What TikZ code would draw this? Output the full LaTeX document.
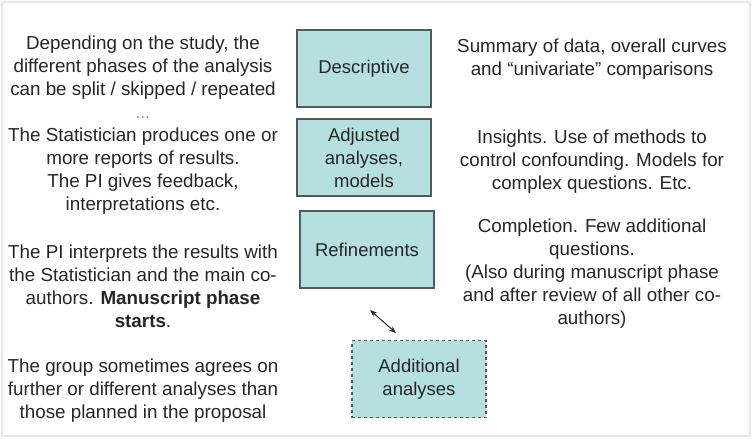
\documentclass[tikz,border=0pt]{standalone}
\usepackage{fontspec}
\setmainfont{Liberation Sans}
\usepackage{tikz}
\usetikzlibrary{arrows.meta}

\definecolor{phasefill}{HTML}{B6DFE0}
\definecolor{phaseline}{HTML}{4C5C5C}
\definecolor{txtgray}{HTML}{262626}
\definecolor{framegray}{HTML}{E8E8E8}

\begin{document}
\begin{tikzpicture}[x=1pt,y=-1pt,
  phase/.style={rectangle,draw=phaseline,fill=phasefill,line width=1.5pt,
    minimum width=134pt,minimum height=77pt,align=center,text=txtgray,
    font=\fontsize{18.5}{23}\selectfont},
  note/.style={align=center,text=txtgray,font=\fontsize{18.8}{23}\selectfont}]
\useasboundingbox (0,0) rectangle (753,439);
\draw [framegray,line width=1.2pt] (2,2) rectangle (750,436);
% phases
\node [phase] (desc) at (364,68.5) {Descriptive};
\node [phase] (adj) at (364,157.5) {Adjusted\\analyses,\\models};
\node [phase] (ref) at (367,249.5) {Refinements};
\node [phase,dashed] (add) at (419,379) {Additional\\analyses};
\coordinate (u) at (370,310);
\coordinate (v) at (396,333);
\draw [{Stealth[length=7pt]}-{Stealth[length=7pt]},line width=1pt,txtgray] (u) -- (v);
% left column
\node [note] (l1) at (143,125) {Depending on the study, the\\different phases of the analysis\\can be split / skipped / repeated\\{\fontsize{15}{23}\selectfont\color{gray}\dots}\\The Statistician produces one or\\more reports of results.\\The PI gives feedback,\\interpretations etc.};
\node [note] (l2) at (143,286) {The PI interprets the results with\\the Statistician and the main co-\\authors. \textbf{Manuscript phase}\\\textbf{starts}.};
\node [note] (l3) at (143,390.5) {The group sometimes agrees on\\further or different analyses than\\those planned in the proposal};
% right column
\node [note] (r1) at (592,59) {Summary of data, overall curves\\and ``univariate'' comparisons};
\node [note] (r2) at (592,161.5) {Insights. Use of methods to\\control confounding. Models for\\complex questions. Etc.};
\node [note] (r3) at (592,273.5) {Completion. Few additional\\questions.\\(Also during manuscript phase\\and after review of all other co-\\authors)};
\end{tikzpicture}
\end{document}
